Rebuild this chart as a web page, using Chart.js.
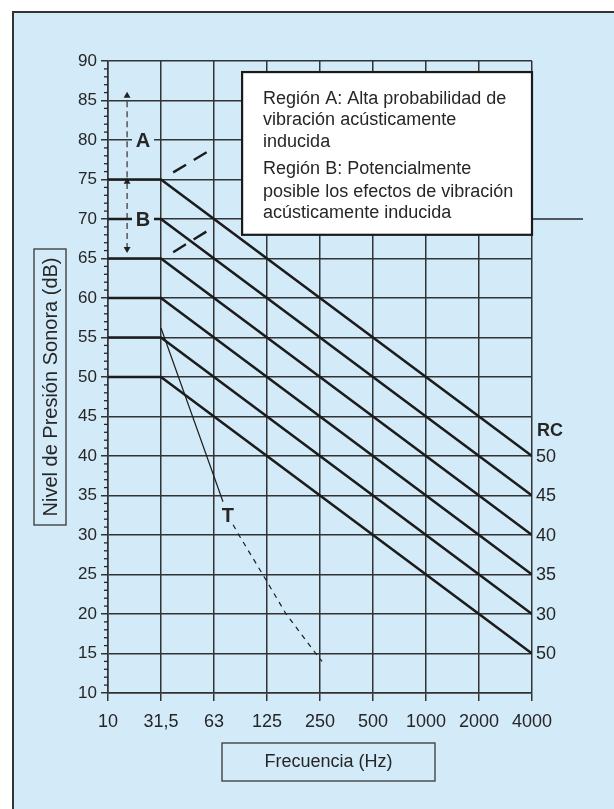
<!DOCTYPE html>
<html>
<head>
<meta charset="utf-8">
<script src="https://cdn.jsdelivr.net/npm/chart.js@4.4.0/dist/chart.umd.min.js"></script>
<style>
  html, body { margin: 0; padding: 0; background: #fff; }
  body { width: 614px; height: 809px; position: relative; overflow: hidden; }
  #frame { position: absolute; left: 12px; top: 11px; width: 640px; height: 840px;
           background: #d3eaf8; border-left: 2px solid #333; border-top: 2px solid #333; }
  #chart { position: absolute; left: 0; top: 0; }
</style>
</head>
<body>
<div id="frame"></div>
<canvas id="chart" width="614" height="809"></canvas>
<script>
const freqLabels = ['10', '31,5', '63', '125', '250', '500', '1000', '2000', '4000'];

// curvas RC (dB por banda de octava)
const rc50 = [75, 75, 70, 65, 60, 55, 50, 45, 40];
const rc45 = [70, 70, 65, 60, 55, 50, 45, 40, 35];
const rc40 = [65, 65, 60, 55, 50, 45, 40, 35, 30];
const rc35 = [60, 60, 55, 50, 45, 40, 35, 30, 25];
const rc30 = [55, 55, 50, 45, 40, 35, 30, 25, 20];
const rc25 = [50, 50, 45, 40, 35, 30, 25, 20, 15];
const rcLabels = ['50', '45', '40', '35', '30', '50'];

// curva T: [indice de banda, dB]
const tSolid = [[1, 56.2], [2.17, 34.2]];
const tDashed = [[2.36, 31.3], [2.47, 30], [2.92, 25], [3.36, 20], [3.92, 15], [4.04, 14]];

// limites de las regiones A y B
const limitA = [[1.23, 75.9], [2.0, 79]];
const limitB = [[1.23, 65.8], [2.0, 69]];
const arrowA = [[0.36, 75.3], [0.36, 85.6]];
const arrowB = [[0.36, 66.2], [0.36, 74.7]];

const noteA = ['Región A: Alta probabilidad de', 'vibración acústicamente', 'inducida'];
const noteB = ['Región B: Potencialmente', 'posible los efectos de vibración', 'acústicamente inducida'];

const FONT = '"Liberation Sans", Arial, Helvetica, sans-serif';
const INK = '#262626';
const BG = '#d3eaf8';

const toXY = arr => arr.map(p => ({ x: p[0], y: p[1] }));
const toSeries = arr => arr.map((v, i) => ({ x: i, y: v }));

function rcSet(values) {
    return { data: toSeries(values), borderColor: '#1c1c1c', borderWidth: 2.6, pointRadius: 0, tension: 0 };
}

const decor = {
    id: 'decor',
    afterDatasetsDraw(chart) {
        const ctx = chart.ctx;
        const xs = chart.scales.x, ys = chart.scales.y;
        const area = chart.chartArea;
        ctx.save();

        // marcas menores del eje Y
        ctx.strokeStyle = INK;
        ctx.lineWidth = 1.3;
        for (let v = ys.min; v <= ys.max; v++) {
            if (v % 5 === 0) continue;
            const y = ys.getPixelForValue(v);
            ctx.beginPath();
            ctx.moveTo(area.left - 4, y);
            ctx.lineTo(area.left, y);
            ctx.stroke();
        }

        // linea de 70 dB que sale del grafico
        ctx.lineWidth = 1.4;
        ctx.beginPath();
        ctx.moveTo(area.right, ys.getPixelForValue(70));
        ctx.lineTo(583, ys.getPixelForValue(70));
        ctx.stroke();

        // etiquetas A y B
        ctx.font = 'bold 20px ' + FONT;
        ctx.textAlign = 'center';
        ctx.textBaseline = 'middle';
        [['A', 80], ['B', 70]].forEach(([t, v]) => {
            const x = xs.getPixelForValue(0.66), y = ys.getPixelForValue(v);
            ctx.fillStyle = BG;
            ctx.fillRect(x - 11, y - 9, 22, 18);
            ctx.fillStyle = INK;
            ctx.fillText(t, x, y + 1);
        });
        ctx.fillText('T', xs.getPixelForValue(2.26), ys.getPixelForValue(32.3));

        // etiquetas RC a la derecha
        ctx.textAlign = 'left';
        ctx.font = 'bold 18px ' + FONT;
        ctx.fillText('RC', area.right + 5, ys.getPixelForValue(rc50[8]) - 25);
        ctx.font = '18px ' + FONT;
        [rc50, rc45, rc40, rc35, rc30, rc25].forEach((s, i) => {
            ctx.fillText(rcLabels[i], area.right + 4, ys.getPixelForValue(s[8]) + 1);
        });

        // cuadro de notas
        const bx = xs.getPixelForValue(2.53), by = ys.getPixelForValue(88.6);
        const bw = area.right - bx, bh = ys.getPixelForValue(68) - by;
        ctx.fillStyle = '#fff';
        ctx.fillRect(bx, by, bw, bh);
        ctx.strokeStyle = '#1a1a1a';
        ctx.lineWidth = 2.2;
        ctx.strokeRect(bx, by, bw, bh);
        ctx.fillStyle = INK;
        ctx.font = '18px ' + FONT;
        ctx.textBaseline = 'alphabetic';
        const offs = [32, 53, 75, 102, 125, 146];
        noteA.concat(noteB).forEach((t, i) => ctx.fillText(t, bx + 21, by + offs[i]));

        // titulos de ejes en recuadro
        ctx.strokeStyle = '#444';
        ctx.lineWidth = 1.4;
        ctx.strokeRect(34, 249, 32, 276);
        ctx.strokeRect(222, 743, 213, 38);
        ctx.textAlign = 'center';
        ctx.textBaseline = 'middle';
        ctx.font = '18px ' + FONT;
        ctx.fillText('Frecuencia (Hz)', 328.5, 762);
        ctx.translate(51, 387);
        ctx.rotate(-Math.PI / 2);
        ctx.font = '20px ' + FONT;
        ctx.fillText('Nivel de Presión Sonora (dB)', 0, 0);
        ctx.restore();
    }
};

new Chart(document.getElementById('chart'), {
    type: 'line',
    data: {
        datasets: [
            rcSet(rc50), rcSet(rc45), rcSet(rc40), rcSet(rc35), rcSet(rc30), rcSet(rc25),
            { data: toXY(tSolid), borderColor: '#1c1c1c', borderWidth: 1.2, pointRadius: 0 },
            { data: toXY(tDashed), borderColor: '#1c1c1c', borderWidth: 1.2, borderDash: [5, 5], pointRadius: 0 },
            { data: toXY(limitA), borderColor: '#1c1c1c', borderWidth: 2.4, borderDash: [15, 9], pointRadius: 0 },
            { data: toXY(limitB), borderColor: '#1c1c1c', borderWidth: 2.4, borderDash: [15, 9], pointRadius: 0 },
            { data: toXY(arrowA), borderColor: '#333', borderWidth: 1.2, borderDash: [6, 4],
              pointStyle: 'triangle', pointRadius: [0, 4], pointBorderWidth: 0, pointBackgroundColor: '#222', pointRotation: [0, 0] },
            { data: toXY(arrowB), borderColor: '#333', borderWidth: 1.2, borderDash: [6, 4],
              pointStyle: 'triangle', pointRadius: [4, 4], pointBorderWidth: 0, pointBackgroundColor: '#222', pointRotation: [180, 0] }
        ]
    },
    options: {
        responsive: false,
        animation: false,
        layout: { padding: { left: 0, right: 82, top: 61, bottom: 0 } },
        plugins: { legend: { display: false }, tooltip: { enabled: false } },
        scales: {
            x: {
                type: 'linear', min: 0, max: 8,
                afterFit: s => { s.height = 116; },
                ticks: { stepSize: 1, autoSkip: false, maxRotation: 0, padding: 10, color: INK,
                         font: { family: FONT, size: 18 }, callback: v => freqLabels[v] },
                grid: { color: '#333', lineWidth: 1.5, tickLength: 8, tickColor: '#333' },
                border: { color: '#333', width: 1.5 }
            },
            y: {
                min: 10, max: 90,
                afterFit: s => { s.width = 108; },
                ticks: { stepSize: 5, autoSkip: false, padding: 4, color: INK,
                         font: { family: FONT, size: 17 } },
                grid: { color: '#333', lineWidth: 1.5, tickLength: 7, tickColor: '#333' },
                border: { color: '#333', width: 1.5 }
            }
        }
    },
    plugins: [decor]
});
</script>
</body>
</html>
